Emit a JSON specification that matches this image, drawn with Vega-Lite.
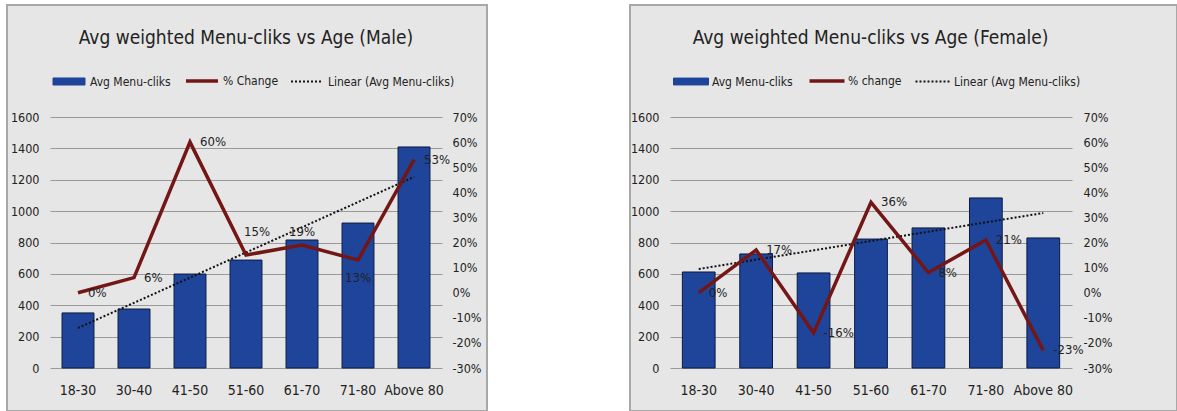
{
  "$schema": "https://vega.github.io/schema/vega-lite/v6.json",
  "padding": {"left": 6, "top": 4, "right": 0, "bottom": 0},
  "background": "white",
  "spacing": 141,
  "config": {
    "font": "Liberation Sans Narrow, DejaVu Sans Condensed, Arial Narrow, sans-serif",
    "locale": {"number": {"decimal": ".", "thousands": ",", "grouping": [3], "currency": ["$", ""], "minus": "-"}},
    "view": {"fill": "#e6e6e6", "stroke": "#a8a8a8", "strokeWidth": 2},
    "axis": {"labelColor": "#222222", "labelFont": "Liberation Sans Narrow, DejaVu Sans Condensed, sans-serif"},
    "legend": {"labelColor": "#222222", "labelFont": "Liberation Sans Narrow, DejaVu Sans Condensed, sans-serif"},
    "title": {"font": "Liberation Sans Narrow, DejaVu Sans Condensed, sans-serif", "color": "#222222"},
    "text": {"font": "Liberation Sans Narrow, DejaVu Sans Condensed, sans-serif"}
  },
  "datasets": {
    "male": [
      {"age": "18-30", "clicks": 351, "pct": 0},
      {"age": "30-40", "clicks": 376, "pct": 0.06},
      {"age": "41-50", "clicks": 599, "pct": 0.60},
      {"age": "51-60", "clicks": 688, "pct": 0.15},
      {"age": "61-70", "clicks": 816, "pct": 0.19},
      {"age": "71-80", "clicks": 924, "pct": 0.13},
      {"age": "Above 80", "clicks": 1409, "pct": 0.53}
    ],
    "maleTrend": [
      {"age": "18-30", "trend": 255},
      {"age": "Above 80", "trend": 1218}
    ],
    "female": [
      {"age": "18-30", "clicks": 612, "pct": 0},
      {"age": "30-40", "clicks": 727, "pct": 0.17},
      {"age": "41-50", "clicks": 606, "pct": -0.16},
      {"age": "51-60", "clicks": 822, "pct": 0.36},
      {"age": "61-70", "clicks": 893, "pct": 0.08},
      {"age": "71-80", "clicks": 1084, "pct": 0.21},
      {"age": "Above 80", "clicks": 829, "pct": -0.23}
    ],
    "femaleTrend": [
      {"age": "18-30", "trend": 631},
      {"age": "Above 80", "trend": 988}
    ]
  },
  "hconcat": [
    {
      "width": 480,
      "height": 406,
      "title": {"text": "Avg weighted Menu-cliks vs Age (Male)", "fontSize": 19, "fontWeight": "normal", "offset": -58, "baseline": "alphabetic", "dx": -1},
      "data": {"name": "male"},
      "encoding": {
        "x": {
          "field": "age", "type": "nominal", "sort": null,
          "scale": {"domain": ["18-30", "30-40", "41-50", "51-60", "61-70", "71-80", "Above 80"], "range": [43, 435], "paddingInner": 0.43, "paddingOuter": 0.215},
          "axis": {"orient": "bottom", "offset": -43, "ticks": false, "domain": false, "labelPadding": 15, "labelAngle": 0, "title": null, "labelFontSize": 14, "grid": false}
        }
      },
      "layer": [
        {
          "encoding": {
            "y": {
              "type": "quantitative",
              "scale": {"domain": [0, 1600], "range": [363, 112], "nice": false},
              "axis": {"orient": "left", "offset": -43, "ticks": false, "domain": false, "labelPadding": 11, "values": [0, 200, 400, 600, 800, 1000, 1200, 1400, 1600], "format": "d", "grid": true, "gridColor": "#9a9a9a", "gridWidth": 1.2, "labelFontSize": 12.5, "title": null}
            },
            "color": {
              "type": "nominal",
              "scale": {"domain": ["Avg Menu-cliks", "% Change", "Linear (Avg Menu-cliks)"], "range": ["#1f459b", "#741616", "#111111"]},
              "legend": {
                "title": null, "orient": "none", "legendX": 56, "legendY": 70, "direction": "horizontal", "columns": 3,
                "labelFontSize": 12, "labelOffset": 15, "columnPadding": 8, "symbolSize": 1024,
                "encode": {"symbols": {"update": {
                  "shape": {"signal": "datum.value === 'Avg Menu-cliks' ? 'M-1,-0.22H1V0.22H-1Z' : 'M-1,0H1'"},
                  "fill": {"signal": "datum.value === 'Avg Menu-cliks' ? '#1f459b' : 'transparent'"},
                  "stroke": {"signal": "datum.value === 'Avg Menu-cliks' ? '#0b1a40' : datum.value === '% Change' ? '#741616' : '#111111'"},
                  "strokeWidth": {"signal": "datum.value === '% Change' ? 3.5 : datum.value === 'Avg Menu-cliks' ? 1 : 2"},
                  "strokeDash": {"signal": "datum.value === 'Linear (Avg Menu-cliks)' ? [2, 2] : [1, 0]"},
                  "opacity": {"value": 1}
                }}}
              }
            }
          },
          "layer": [
            {
              "mark": {"type": "bar", "stroke": "#0b1a40", "strokeWidth": 1},
              "encoding": {"y": {"field": "clicks"}, "color": {"datum": "Avg Menu-cliks"}}
            },
            {
              "data": {"name": "maleTrend"},
              "mark": {"type": "line", "strokeDash": [2, 2], "strokeWidth": 2},
              "encoding": {"y": {"field": "trend"}, "color": {"datum": "Linear (Avg Menu-cliks)"}}
            }
          ]
        },
        {
          "encoding": {
            "y": {
              "field": "pct", "type": "quantitative",
              "scale": {"domain": [-0.3, 0.7], "range": [363, 112], "nice": false, "zero": false},
              "axis": {"orient": "right", "offset": -45, "ticks": false, "domain": false, "labelPadding": 10, "values": [-0.3, -0.2, -0.1, 0, 0.1, 0.2, 0.3, 0.4, 0.5, 0.6, 0.7], "format": ".0%", "grid": false, "labelFontSize": 12.5, "title": null}
            }
          },
          "layer": [
            {
              "mark": {"type": "line", "strokeWidth": 3.5},
              "encoding": {"color": {"datum": "% Change"}}
            },
            {
              "transform": [{"filter": {"field": "age", "oneOf": ["18-30", "30-40", "41-50", "Above 80"]}}],
              "mark": {"type": "text", "align": "left", "baseline": "middle", "dx": 10, "fontSize": 13, "color": "#222222"},
              "encoding": {"text": {"field": "pct", "format": ".0%"}}
            },
            {
              "transform": [{"filter": {"field": "age", "equal": "51-60"}}],
              "mark": {"type": "text", "align": "center", "baseline": "middle", "dx": 11, "dy": -23, "fontSize": 13, "color": "#222222"},
              "encoding": {"text": {"field": "pct", "format": ".0%"}}
            },
            {
              "transform": [{"filter": {"field": "age", "equal": "61-70"}}],
              "mark": {"type": "text", "align": "center", "baseline": "middle", "dy": -13, "fontSize": 13, "color": "#222222"},
              "encoding": {"text": {"field": "pct", "format": ".0%"}}
            },
            {
              "transform": [{"filter": {"field": "age", "equal": "71-80"}}],
              "mark": {"type": "text", "align": "center", "baseline": "middle", "dy": 18, "fontSize": 13, "color": "#222222"},
              "encoding": {"text": {"field": "pct", "format": ".0%"}}
            }
          ]
        }
      ],
      "resolve": {"scale": {"y": "independent"}, "axis": {"y": "independent"}}
    },
    {
      "width": 547,
      "height": 406,
      "title": {"text": "Avg weighted Menu-cliks vs Age (Female)", "fontSize": 19, "fontWeight": "normal", "offset": -58, "baseline": "alphabetic", "dx": -33},
      "data": {"name": "female"},
      "encoding": {
        "x": {
          "field": "age", "type": "nominal", "sort": null,
          "scale": {"domain": ["18-30", "30-40", "41-50", "51-60", "61-70", "71-80", "Above 80"], "range": [40, 442], "paddingInner": 0.43, "paddingOuter": 0.215},
          "axis": {"orient": "bottom", "offset": -43, "ticks": false, "domain": false, "labelPadding": 15, "labelAngle": 0, "title": null, "labelFontSize": 14, "grid": false}
        }
      },
      "layer": [
        {
          "encoding": {
            "y": {
              "type": "quantitative",
              "scale": {"domain": [0, 1600], "range": [363, 112], "nice": false},
              "axis": {"orient": "left", "offset": -40, "ticks": false, "domain": false, "labelPadding": 11, "values": [0, 200, 400, 600, 800, 1000, 1200, 1400, 1600], "format": "d", "grid": true, "gridColor": "#9a9a9a", "gridWidth": 1.2, "labelFontSize": 12.5, "title": null}
            },
            "color": {
              "type": "nominal",
              "scale": {"domain": ["Avg Menu-cliks", "% change", "Linear (Avg Menu-cliks)"], "range": ["#1f459b", "#741616", "#111111"]},
              "legend": {
                "title": null, "orient": "none", "legendX": 55, "legendY": 70, "direction": "horizontal", "columns": 3,
                "labelFontSize": 12, "labelOffset": 15, "columnPadding": 9, "symbolSize": 1225,
                "encode": {"symbols": {"update": {
                  "shape": {"signal": "datum.value === 'Avg Menu-cliks' ? 'M-1,-0.2H1V0.2H-1Z' : 'M-1,0H1'"},
                  "fill": {"signal": "datum.value === 'Avg Menu-cliks' ? '#1f459b' : 'transparent'"},
                  "stroke": {"signal": "datum.value === 'Avg Menu-cliks' ? '#0b1a40' : datum.value === '% change' ? '#741616' : '#111111'"},
                  "strokeWidth": {"signal": "datum.value === '% change' ? 3.5 : datum.value === 'Avg Menu-cliks' ? 1 : 2"},
                  "strokeDash": {"signal": "datum.value === 'Linear (Avg Menu-cliks)' ? [2, 2] : [1, 0]"},
                  "opacity": {"value": 1}
                }}}
              }
            }
          },
          "layer": [
            {
              "mark": {"type": "bar", "stroke": "#0b1a40", "strokeWidth": 1},
              "encoding": {"y": {"field": "clicks"}, "color": {"datum": "Avg Menu-cliks"}}
            },
            {
              "data": {"name": "femaleTrend"},
              "mark": {"type": "line", "strokeDash": [2, 2], "strokeWidth": 2},
              "encoding": {"y": {"field": "trend"}, "color": {"datum": "Linear (Avg Menu-cliks)"}}
            }
          ]
        },
        {
          "encoding": {
            "y": {
              "field": "pct", "type": "quantitative",
              "scale": {"domain": [-0.3, 0.7], "range": [363, 112], "nice": false, "zero": false},
              "axis": {"orient": "right", "offset": -105, "ticks": false, "domain": false, "labelPadding": 11, "values": [-0.3, -0.2, -0.1, 0, 0.1, 0.2, 0.3, 0.4, 0.5, 0.6, 0.7], "format": ".0%", "grid": false, "labelFontSize": 12.5, "title": null}
            }
          },
          "layer": [
            {
              "mark": {"type": "line", "strokeWidth": 3.5},
              "encoding": {"color": {"datum": "% change"}}
            },
            {
              "mark": {"type": "text", "align": "left", "baseline": "middle", "dx": 10, "fontSize": 13, "color": "#222222"},
              "encoding": {"text": {"field": "pct", "format": ".0%"}}
            }
          ]
        }
      ],
      "resolve": {"scale": {"y": "independent"}, "axis": {"y": "independent"}}
    }
  ],
  "resolve": {"scale": {"color": "independent", "x": "independent", "y": "independent"}, "legend": {"color": "independent"}}
}
